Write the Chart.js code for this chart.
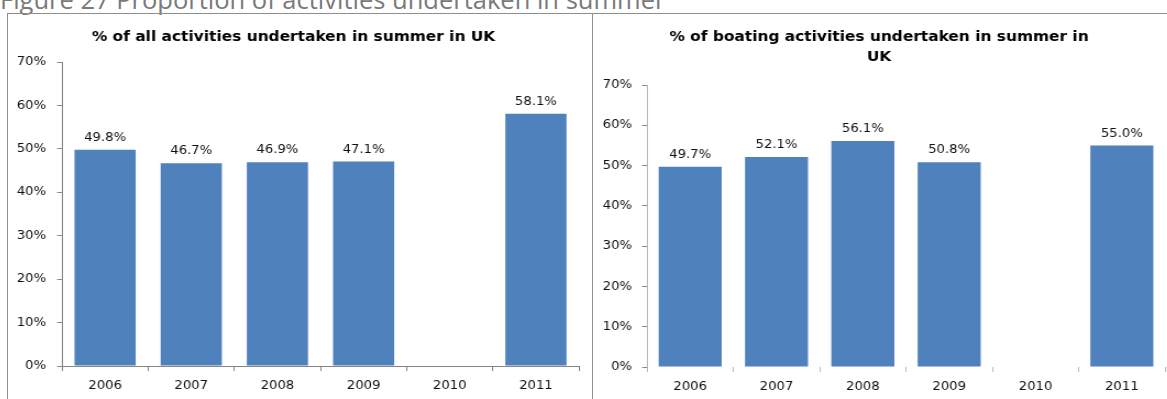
<!DOCTYPE html>
<html>
<head>
<meta charset="utf-8">
<script src="https://cdn.jsdelivr.net/npm/chart.js@4.4.1/dist/chart.umd.min.js"></script>
<style>
  html, body { margin: 0; padding: 0; background: #fff; }
  body { width: 1167px; height: 399px; position: relative; overflow: hidden; }
  #caption { position: absolute; left: 0px; top: -14px; font-family: "Open Sans", sans-serif; font-size: 25.5px; line-height: 27px; color: #7a7a7a; white-space: nowrap; }
  .line { position: absolute; background: #8e8e8e; }
  canvas { position: absolute; transform-origin: 0 0; }
</style>
</head>
<body>
<div id="caption">Figure 27 Proportion of activities undertaken in summer</div>
<div class="line" style="left:7px; top:13px; width:1160px; height:1px;"></div>
<div class="line" style="left:7px; top:13px; width:1px; height:386px;"></div>
<div class="line" style="left:592px; top:13px; width:1px; height:386px;"></div>
<canvas id="c1" width="531" height="385" style="left:8px; top:14px; transform: scaleX(1.1);"></canvas>
<canvas id="c2" width="522" height="385" style="left:593px; top:14px; transform: scaleX(1.1);"></canvas>
<script>
const categories = ['2006', '2007', '2008', '2009', '2010', '2011'];
const allActivitiesPct = [49.8, 46.7, 46.9, 47.1, null, 58.1];
const boatingActivitiesPct = [49.7, 52.1, 56.1, 50.8, null, 55.0];
const yTickValues = [0, 10, 20, 30, 40, 50, 60, 70];
const titleAll = ['% of all activities undertaken in summer in UK'];
const titleBoating = ['% of boating activities undertaken in summer in', 'UK'];

const BAR_BLUE = '#4F81BD';
const TICK_FONT = { family: 'DejaVu Sans', size: 12 };

const valueLabels = {
  id: 'valueLabels',
  afterDatasetsDraw(chart) {
    const ctx = chart.ctx;
    const meta = chart.getDatasetMeta(0);
    const data = chart.data.datasets[0].data;
    ctx.save();
    ctx.font = '12px "DejaVu Sans"';
    ctx.fillStyle = '#111';
    ctx.textAlign = 'center';
    ctx.textBaseline = 'middle';
    meta.data.forEach((bar, i) => {
      const v = data[i];
      if (v === null || v === undefined) return;
      ctx.fillText(v.toFixed(1) + '%', bar.x, bar.y - 12);
    });
    ctx.restore();
  }
};

function makeChart(id, values, title, opts) {
  return new Chart(document.getElementById(id), {
    type: 'bar',
    data: {
      labels: categories,
      datasets: [{
        data: values,
        backgroundColor: BAR_BLUE,
        borderWidth: 0,
        barPercentage: opts.barPct,
        categoryPercentage: 1.0
      }]
    },
    options: {
      responsive: false,
      animation: false,
      devicePixelRatio: 1,
      layout: { padding: { left: 0, right: opts.padRight, top: 0, bottom: 0 } },
      plugins: {
        legend: { display: false },
        tooltip: { enabled: false },
        title: {
          display: true,
          text: title,
          color: '#000',
          font: { family: 'DejaVu Sans', size: 14, weight: 'bold', lineHeight: 20 / 14 },
          padding: { top: 13.5, bottom: opts.titleBottom }
        }
      },
      scales: {
        x: {
          offset: true,
          grid: { offset: true, drawOnChartArea: false, drawTicks: true, tickLength: 5, color: opts.xTickColor },
          border: { display: opts.xBorder, color: '#868686' },
          ticks: { color: '#111', font: TICK_FONT, padding: 8, maxRotation: 0, autoSkip: false },
          afterFit(scale) { scale.height = opts.xHeight; }
        },
        y: {
          min: 0,
          max: 70,
          afterBuildTicks(scale) { scale.ticks = yTickValues.map(v => ({ value: v })); },
          grid: { drawOnChartArea: false, drawTicks: true, tickLength: 4.5, color: '#868686' },
          border: { display: true, color: opts.yBorderColor },
          ticks: { color: '#111', font: TICK_FONT, padding: opts.yPad, callback: v => v + '%' },
          afterFit(scale) { scale.width = 49.1; }
        }
      }
    },
    plugins: [valueLabels]
  });
}

makeChart('c1', allActivitiesPct, titleAll, {
  barPct: 0.71, padRight: 11.9, titleBottom: 14.5, xHeight: 33, yPad: 10,
  xTickColor: '#868686', xBorder: true, yBorderColor: '#868686'
});
makeChart('c2', boatingActivitiesPct, titleBoating, {
  barPct: 0.73, padRight: 2, titleBottom: 17.5, xHeight: 32, yPad: 9.1,
  xTickColor: '#b8b8b8', xBorder: false, yBorderColor: '#b8b8b8'
});
</script>
</body>
</html>
